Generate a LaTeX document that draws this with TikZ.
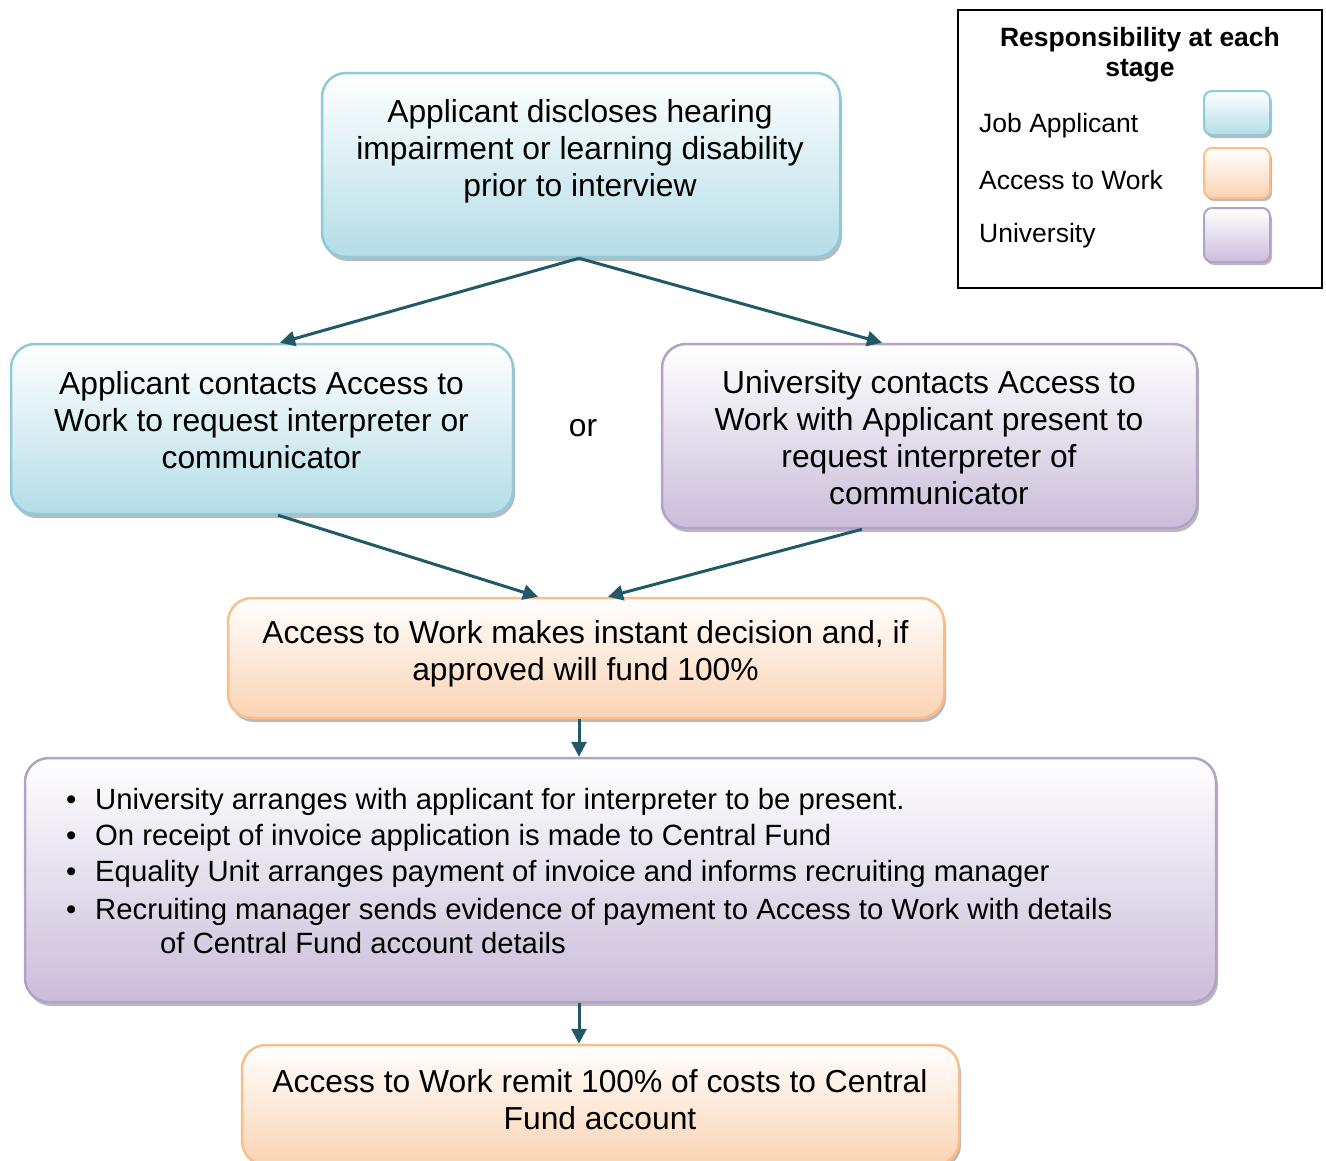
\documentclass[tikz,border=0pt]{standalone}
\usepackage{fontspec}
\setmainfont{Liberation Sans}
\usetikzlibrary{arrows.meta,shadows}
\definecolor{bluebd}{HTML}{8FCADB}
\definecolor{bluefl}{HTML}{B4DDE7}
\definecolor{orbd}{HTML}{F9BE8C}
\definecolor{orfl}{HTML}{FAD3B3}
\definecolor{pubd}{HTML}{B3A2C7}
\definecolor{pufl}{HTML}{CABDDA}
\definecolor{arr}{HTML}{215968}
\begin{document}
\begin{tikzpicture}[x=1pt,y=-1pt,
  box/.style={rounded corners=24pt, line width=2.5pt, inner sep=0pt,
    drop shadow={shadow xshift=2pt, shadow yshift=-4pt, fill=black!60, opacity=0.45}},
  swatch/.style={rounded corners=8pt, line width=2pt, inner sep=0pt,
    drop shadow={shadow xshift=2pt, shadow yshift=-3pt, fill=black!60, opacity=0.45}},
  bluebox/.style={draw=bluebd, top color=white, bottom color=bluefl},
  orbox/.style={draw=orbd, top color=white, bottom color=orfl},
  pubox/.style={draw=pubd, top color=white, bottom color=pufl},
  txt/.style={align=center, inner sep=0pt, font=\fontsize{31.8}{37}\selectfont},
  legtxt/.style={inner sep=0pt, font=\fontsize{26.5}{30}\selectfont},
  conn/.style={draw=arr, line width=3pt, -{Triangle[length=15pt,width=15pt]}}
]
\useasboundingbox (0,0) rectangle (1326,1160);

% boxes
\node[box, bluebox, minimum width=518pt, minimum height=184pt] (b1) at (581,165) {};
\node[box, bluebox, minimum width=502pt, minimum height=170pt] (b2) at (262,429) {};
\node[box, pubox, minimum width=535pt, minimum height=184pt] (b3) at (929.5,436) {};
\node[box, orbox, minimum width=716pt, minimum height=120pt] (b4) at (586,658) {};
\node[box, pubox, minimum width=1191pt, minimum height=244pt] (b5) at (620.5,880) {};
\node[box, orbox, minimum width=717pt, minimum height=120pt] (b6) at (600.5,1105) {};

% texts
\node[txt] (t1) at (580,151) {Applicant discloses hearing\\impairment or learning disability\\prior to interview};
\node[txt] (t2) at (261.5,420) {Applicant contacts Access to\\Work to request interpreter or\\communicator};
\node[txt] (t3) at (929,438) {University contacts Access to\\Work with Applicant present to\\request interpreter of\\communicator};
\node[txt] (t4) at (585.5,654) {Access to Work makes instant decision and, if\\approved will fund 100\%};
\node[txt] (t6) at (600,1100) {Access to Work remit 100\% of costs to Central\\Fund account};
\node[txt] (or) at (583,428) {or};
\node[align=left, inner sep=0pt, anchor=north west, font=\fontsize{29.3}{36}\selectfont] (t5) at (66,788) {%
\makebox[29pt][l]{\textbullet}University arranges with applicant for interpreter to be present.\\
\makebox[29pt][l]{\textbullet}On receipt of invoice application is made to Central Fund\\
\makebox[29pt][l]{\textbullet}Equality Unit arranges payment of invoice and informs recruiting manager\\[2pt]
\makebox[29pt][l]{\textbullet}Recruiting manager sends evidence of payment to Access to Work with details\\[-2pt]
\hspace*{94pt}of Central Fund account details};

% legend
\node[draw=black, line width=2pt, minimum width=364pt, minimum height=278pt, inner sep=0pt] (leg) at (1140,149) {};
\node[legtxt, align=center, font=\fontsize{26.5}{30}\selectfont\bfseries] (legt) at (1140,55) {Responsibility at each\\stage};
\node[legtxt, anchor=west] (l1) at (979,126) {Job Applicant};
\node[legtxt, anchor=west] (l2) at (979,180) {Access to Work};
\node[legtxt, anchor=west] (l3) at (979,236) {University};
\node[swatch, bluebox, minimum width=66pt, minimum height=44pt] (s1) at (1237,113) {};
\node[swatch, orbox, minimum width=66pt, minimum height=50pt] (s2) at (1237,173) {};
\node[swatch, pubox, minimum width=66pt, minimum height=54pt] (s3) at (1237,235) {};

% connectors
\draw[conn] ([xshift=-2pt]b1.south) -- ([xshift=18pt]b2.north);
\draw[conn] ([xshift=-2pt]b1.south) -- ([xshift=-47.5pt]b3.north);
\draw[conn] ([xshift=16pt]b2.south) -- ([xshift=-48pt]b4.north);
\draw[conn] ([xshift=-67.5pt]b3.south) -- ([xshift=22pt]b4.north);
\draw[conn] ([xshift=-7pt]b4.south) -- ([xshift=-41.5pt]b5.north);
\draw[conn] ([xshift=-41.5pt]b5.south) -- ([xshift=-21.5pt]b6.north);
\end{tikzpicture}
\end{document}
